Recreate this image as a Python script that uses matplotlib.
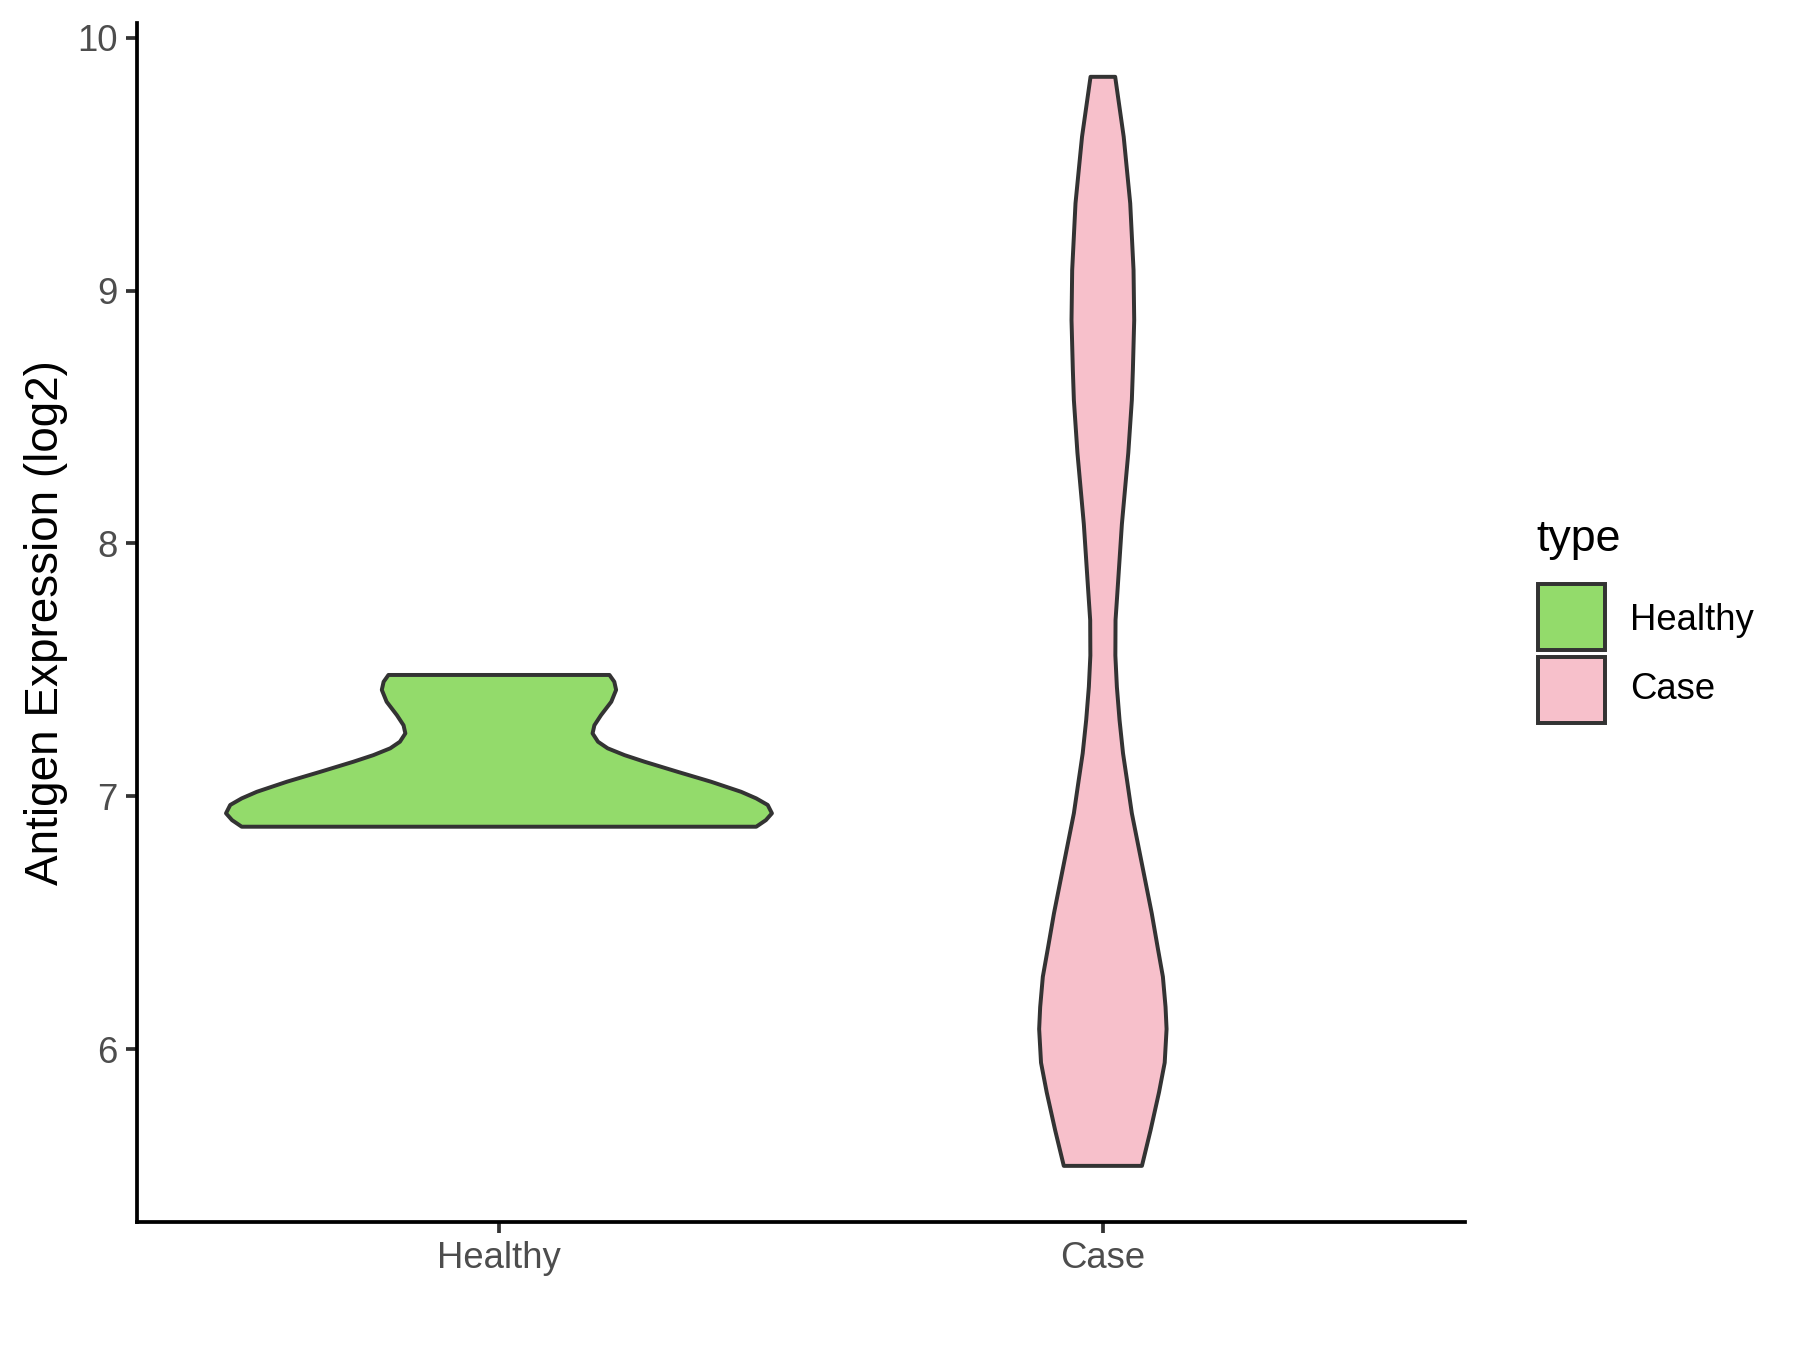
import numpy as np
import matplotlib
matplotlib.use("Agg")
import matplotlib.pyplot as plt
from matplotlib.patches import Rectangle

plt.rcParams['font.family'] = ['Liberation Sans', 'DejaVu Sans']

categories = ['Healthy', 'Case']
colors = ['#93DB6B', '#F7C0CB']

# violin outlines: value (log2) and half width (x units)
healthy_y = [7.480, 7.453, 7.421, 7.374, 7.321, 7.281, 7.249, 7.216, 7.190, 7.163,
             7.137, 7.097, 7.058, 7.018, 6.992, 6.966, 6.933, 6.906, 6.880]
healthy_hw = [0.183, 0.191, 0.194, 0.186, 0.169, 0.158, 0.155, 0.164, 0.180, 0.208,
              0.241, 0.296, 0.351, 0.401, 0.426, 0.445, 0.452, 0.442, 0.426]

case_y = [9.845, 9.608, 9.345, 9.081, 8.883, 8.686, 8.567, 8.358, 8.076, 7.793, 7.697,
          7.557, 7.433, 7.302, 7.170, 7.064, 6.933, 6.801, 6.669, 6.537, 6.405, 6.287,
          6.167, 6.08, 5.947, 5.83, 5.68, 5.539]
case_hw = [0.0204, 0.0345, 0.0453, 0.0508, 0.0519, 0.0497, 0.048, 0.0421, 0.0315, 0.0237, 0.021,
           0.0207, 0.0232, 0.0276, 0.0334, 0.040, 0.048, 0.059, 0.070, 0.081, 0.0906, 0.0994,
           0.1038, 0.1055, 0.1024, 0.093, 0.079, 0.0647]

yticks = [6, 7, 8, 9, 10]

fig = plt.figure(figsize=(12, 9), dpi=150)
ax = fig.add_axes([0.0759, 0.0948, 0.7381, 0.8882])

profiles = [(healthy_y, healthy_hw), (case_y, case_hw)]
for i, (ys, hws) in enumerate(profiles):
    pos = i + 1
    ys = np.array(ys)
    hws = np.array(hws)
    xs = np.concatenate([pos - hws, (pos + hws)[::-1]])
    yy = np.concatenate([ys, ys[::-1]])
    ax.fill(xs, yy, facecolor=colors[i], edgecolor='#333333', linewidth=1.9, joinstyle='round')

ax.set_xlim(0.4, 2.6)
ax.set_ylim(5.317, 10.058)
ax.set_xticks([1, 2])
ax.set_xticklabels(categories)
ax.set_yticks(yticks)
ax.set_yticklabels([str(t) for t in yticks])

for s in ['top', 'right']:
    ax.spines[s].set_visible(False)
for s in ['left', 'bottom']:
    ax.spines[s].set_linewidth(1.8)
    ax.spines[s].set_color('black')
ax.tick_params(axis='both', length=5.5, width=1.8, color='#333333',
               labelsize=17.5, labelcolor='#4D4D4D', pad=3.5)

ax.set_ylabel('Antigen Expression (log2)', fontsize=22, color='black')
ax.yaxis.set_label_coords(-0.0517, 0.5)

# legend
fig.text(0.8533, 0.6003, 'type', fontsize=21.5, va='center', ha='left')
key_bottoms = [0.5185, 0.4644]
label_y = [0.5407, 0.4889]
for i, name in enumerate(categories):
    fig.add_artist(Rectangle((0.8544, key_bottoms[i]), 0.0372, 0.0489,
                             transform=fig.transFigure, facecolor=colors[i],
                             edgecolor='#333333', linewidth=1.9))
    fig.text(0.9056, label_y[i], name, fontsize=17.5, va='center', ha='left')

fig.savefig('out.png', dpi=150)
